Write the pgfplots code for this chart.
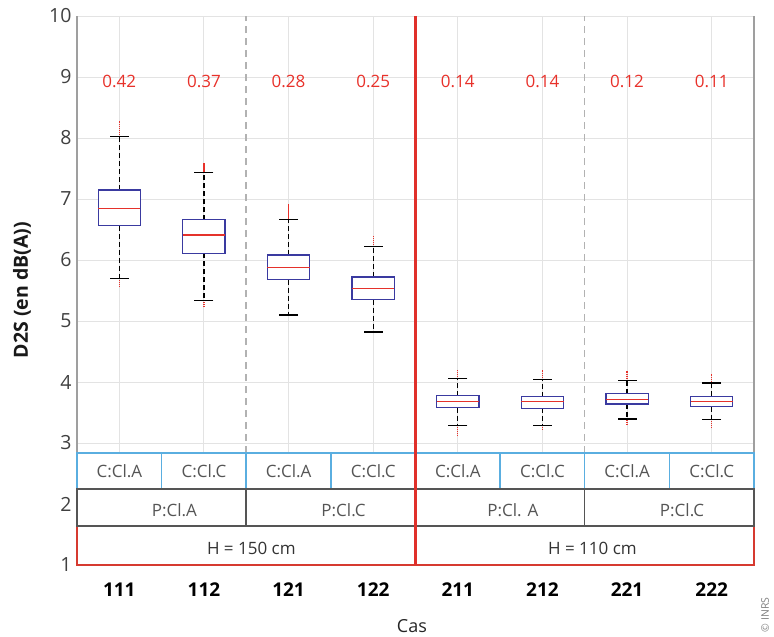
\documentclass[border=0pt]{standalone}
\usepackage{pgfplots}
\pgfplotsset{compat=1.18}
\usepgfplotslibrary{statistics}
\usepackage{fontspec}
\setmainfont{Open Sans}
\definecolor{boxblue}{HTML}{3A3AA0}
\definecolor{medred}{HTML}{E5322B}
\definecolor{cblue}{HTML}{5AAEE0}
\definecolor{pgray}{HTML}{555555}
\definecolor{hred}{HTML}{D63A30}
\definecolor{sepred}{HTML}{E0302A}
\definecolor{ticktext}{HTML}{404040}
\definecolor{numred}{HTML}{E8312A}
\newcommand{\bx}[6]{\addplot[black, boxplot prepared={draw position=#1, lower whisker=#2, lower quartile=#3, median=#4, upper quartile=#5, upper whisker=#6}] coordinates {};}
\begin{document}
\begin{tikzpicture}
\begin{axis}[
  scale only axis, width=677pt, height=549pt,
  xmin=0.5, xmax=8.5, ymin=1, ymax=10,
  xtick={1,...,8}, xticklabels={111,112,121,122,211,212,221,222},
  ytick={1,...,10},
  grid=major, major grid style={draw=gray!22, line width=0.9pt},
  major tick length=0,
  axis line style={draw=none},
  clip=false,
  xticklabel style={font=\fontsize{19}{20}\selectfont\bfseries, text=black, yshift=-14pt},
  yticklabel style={font=\fontsize{19.5}{20}\selectfont, text=ticktext, xshift=-2pt},
  /pgf/number format/assume math mode=true,
  boxplot/draw direction=y,
  boxplot/box extend=0.5,
  boxplot/whisker extend=0,
  boxplot/every box/.style={draw=boxblue, fill=white, line width=1.3pt},
  boxplot/every median/.style={draw=medred, line width=1.3pt},
  boxplot/every whisker/.style={draw=black, line width=1.2pt, dash pattern=on 5pt off 3pt},
]
\coordinate (SW) at (rel axis cs:0,0);
\coordinate (RB) at (axis cs:4.5,1);
\coordinate (RT) at (axis cs:4.5,10);
% table background
\fill[white] (axis cs:0.5,1) rectangle (axis cs:8.5,2.836);
% separators and spines
\draw[gray!60, line width=1.5pt, dash pattern=on 7pt off 5pt] (axis cs:2.5,2.836) -- (axis cs:2.5,10);
\draw[gray!60, line width=1.5pt, dash pattern=on 7pt off 5pt] (axis cs:6.5,2.836) -- (axis cs:6.5,10);
\draw[gray!75, line width=1.3pt] (axis cs:0.5,2.836) -- (axis cs:0.5,10);
\draw[gray!75, line width=1.3pt] (axis cs:8.5,2.836) -- (axis cs:8.5,10);
% boxes
\bx{1}{5.70}{6.56}{6.85}{7.15}{8.03}
\bx{2}{5.33}{6.11}{6.41}{6.66}{7.43}
\bx{3}{5.10}{5.68}{5.875}{6.08}{6.66}
\bx{4}{4.82}{5.35}{5.53}{5.72}{6.225}
\bx{5}{3.29}{3.578}{3.686}{3.773}{4.058}
\bx{6}{3.29}{3.567}{3.676}{3.762}{4.042}
\bx{7}{3.394}{3.637}{3.718}{3.81}{4.026}
\bx{8}{3.379}{3.595}{3.686}{3.767}{3.984}
% whisker caps
\addplot[black, only marks, mark=-, mark size=9.5pt, mark options={line width=1.2pt, solid}] coordinates {
 (1,8.03)(1,5.70)(2,7.43)(2,5.33)(3,6.66)(3,5.10)(4,6.225)(4,4.82)
 (5,4.058)(5,3.29)(6,4.042)(6,3.29)(7,4.026)(7,3.394)(8,3.984)(8,3.379)};
% outliers
\addplot[numred, line width=1.3pt, dash pattern=on 1.2pt off 0.8pt, unbounded coords=jump] coordinates {
 (1,8.05)(1,8.28) (1,nan) (1,5.68)(1,5.58) (1,nan)
 (2,7.45)(2,7.59) (2,nan) (2,5.31)(2,5.23) (2,nan)
 (3,6.68)(3,6.91) (3,nan)
 (4,6.245)(4,6.40) (4,nan)
 (5,4.075)(5,4.204) (5,nan) (5,3.27)(5,3.109) (5,nan)
 (6,4.06)(6,4.194) (6,nan) (6,3.27)(6,3.206) (6,nan)
 (7,4.045)(7,4.183) (7,nan) (7,3.375)(7,3.30) (7,nan)
 (8,4.0)(8,4.139) (8,nan) (8,3.36)(8,3.238)};
% red numbers
\addplot[draw=none, mark=none, nodes near coords, point meta=explicit symbolic,
  nodes near coords style={anchor=center, text=numred, font=\fontsize{17}{18}\selectfont}] coordinates {
 (1,8.93)[0.42] (2,8.93)[0.37] (3,8.93)[0.28] (4,8.93)[0.25]
 (5,8.93)[0.14] (6,8.93)[0.14] (7,8.93)[0.12] (8,8.93)[0.11]};
% table
\draw[hred, line width=1.5pt] (axis cs:0.5,1) rectangle (axis cs:8.5,1.639);
\draw[cblue, line width=1.5pt] (axis cs:0.5,2.246) rectangle (axis cs:8.5,2.836);
\draw[cblue, line width=1.5pt] (axis cs:1.5,2.246) -- (axis cs:1.5,2.836);
\draw[cblue, line width=1.5pt] (axis cs:2.5,2.246) -- (axis cs:2.5,2.836);
\draw[cblue, line width=1.5pt] (axis cs:3.5,2.246) -- (axis cs:3.5,2.836);
\draw[cblue, line width=1.5pt] (axis cs:5.5,2.246) -- (axis cs:5.5,2.836);
\draw[cblue, line width=1.5pt] (axis cs:6.5,2.246) -- (axis cs:6.5,2.836);
\draw[cblue, line width=1.5pt] (axis cs:7.5,2.246) -- (axis cs:7.5,2.836);
\draw[pgray, line width=1.5pt] (axis cs:0.5,1.639) rectangle (axis cs:8.5,2.246);
\draw[pgray, line width=1.5pt] (axis cs:2.5,1.639) -- (axis cs:2.5,2.246);
\draw[pgray, line width=1.5pt] (axis cs:6.5,1.639) -- (axis cs:6.5,2.246);
\begin{scope}[every node/.style={font=\fontsize{17}{18}\selectfont, text=pgray, anchor=center}]
\node at (axis cs:1,2.54) {C:Cl.A};
\node at (axis cs:2,2.54) {C:Cl.C};
\node at (axis cs:3,2.54) {C:Cl.A};
\node at (axis cs:4,2.54) {C:Cl.C};
\node at (axis cs:5,2.54) {C:Cl.A};
\node at (axis cs:6,2.54) {C:Cl.C};
\node at (axis cs:7,2.54) {C:Cl.A};
\node at (axis cs:8,2.54) {C:Cl.C};
\node at (axis cs:1.65,1.90) {P:Cl.A};
\node at (axis cs:3.65,1.90) {P:Cl.C};
\node at (axis cs:5.65,1.90) {P:Cl. A};
\node at (axis cs:7.65,1.90) {P:Cl.C};
\end{scope}
\node[font=\fontsize{17}{18}\selectfont, text=black!80, anchor=center] at (axis cs:2.56,1.28) {H = 150 cm};
\node[font=\fontsize{17}{18}\selectfont, text=black!80, anchor=center] at (axis cs:6.59,1.28) {H = 110 cm};
% labels
\node[font=\fontsize{18}{20}\selectfont, text=black!85, anchor=center] at (axis description cs:0.4948,-0.111) {Cas};
\node[font=\fontsize{19.5}{20}\selectfont\bfseries, text=black!90, rotate=90, anchor=center] at (axis description cs:-0.0812,0.501) {D2S (en dB(A))};
\end{axis}
\draw[sepred, line width=2.2pt] (RB) -- (RT);
\node[rotate=90, font=\fontsize{10.5}{12}\selectfont, text=gray, anchor=center] at ([shift={(688pt,-50pt)}]SW) {© INRS};
\pgfresetboundingbox
\path (SW) ++(-77pt,-72pt) rectangle ++(774pt,637pt);
\end{tikzpicture}
\end{document}
